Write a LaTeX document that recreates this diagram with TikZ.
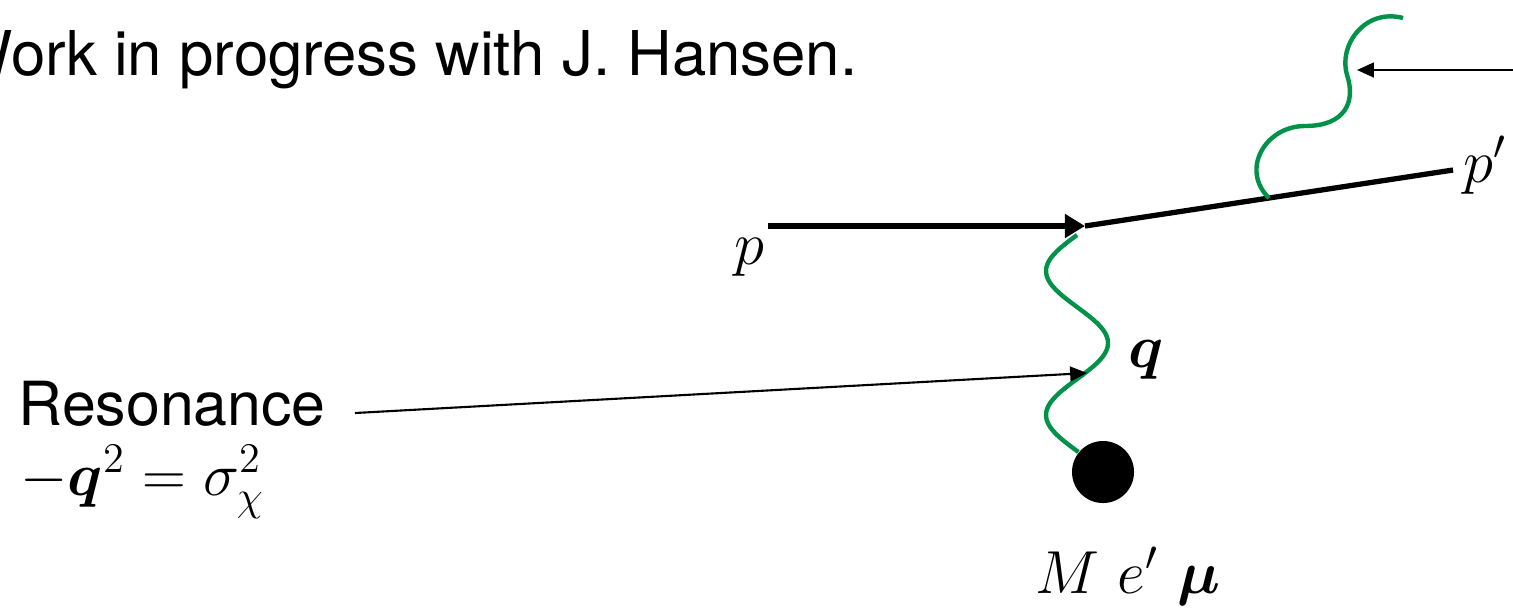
\documentclass[tikz,border=0pt]{standalone}
\usepackage{amsmath}
\usepackage[no-math]{fontspec}
\newfontfamily\helv{TeX Gyre Heros}
\usetikzlibrary{arrows.meta, positioning, calc}
\definecolor{photongreen}{RGB}{0,146,72}

\begin{document}
\begin{tikzpicture}[
  x=0.01cm, y=-0.01cm,
  fermion/.style={line width=1.5pt},
  photon/.style={draw=photongreen, line width=1.25pt},
  pointer/.style={-{Triangle[length=4.8pt,width=4.2pt]}, line width=0.6pt},
  every node/.style={font=\fontsize{17.3}{20}\selectfont, inner sep=0pt}
]
  \useasboundingbox (0,0) rectangle (1513,611);

  \coordinate (pin) at (768,226);
  \coordinate (vtx) at (1085,226);
  \coordinate (pout) at (1453,170);
  \coordinate (emit) at ($(vtx)!0.5!(pout)$);

  \draw[fermion, -{Triangle[length=5.7pt,width=6.5pt]}] (pin) -- (vtx);
  \draw[fermion] (vtx) -- (pout);

  \draw[photon] plot[domain=235:452, samples=80, smooth] ({1077-31*sin(2.5*(\x-235))}, \x);
  \draw[photon] (emit) .. controls (1240,170) and (1265,126) .. (1305,126)
    .. controls (1345,126) and (1356,102) .. (1347,75)
    .. controls (1338,45) and (1365,8) .. (1403,18);

  \node[circle, fill, minimum size=0.62cm] (blob) at (1103,472) {};

  \coordinate (resfrom) at (355,413);
  \coordinate (restip) at (1087,373);
  \draw[pointer] (resfrom) -- (restip);
  \coordinate (offpage) at (1530,70);
  \coordinate (toptip) at (1357,70);
  \draw[pointer] (offpage) -- (toptip);

  \node[anchor=base east, font=\fontsize{17.55}{20}\selectfont] (credit) at (858,75) {\helv Work in progress with J. Hansen.};
  \node[anchor=base west] (reslab) at (18,425) {\helv Resonance};
  \node[anchor=base west] (rescond) at (20,495) {$-\boldsymbol{q}^2=\sigma_\chi^2$};
  \node[below left=0.12cm and 0.03cm of pin] (plab) {$p$};
  \node[anchor=base west] (pplab) at (1463,182) {$p'$};
  \node[anchor=base west] (qlab) at (1128,367) {$\boldsymbol{q}$};
  \node[anchor=base west] (tlab) at (1035,593) {$M\ e'\ \boldsymbol{\mu}$};
\end{tikzpicture}
\end{document}
